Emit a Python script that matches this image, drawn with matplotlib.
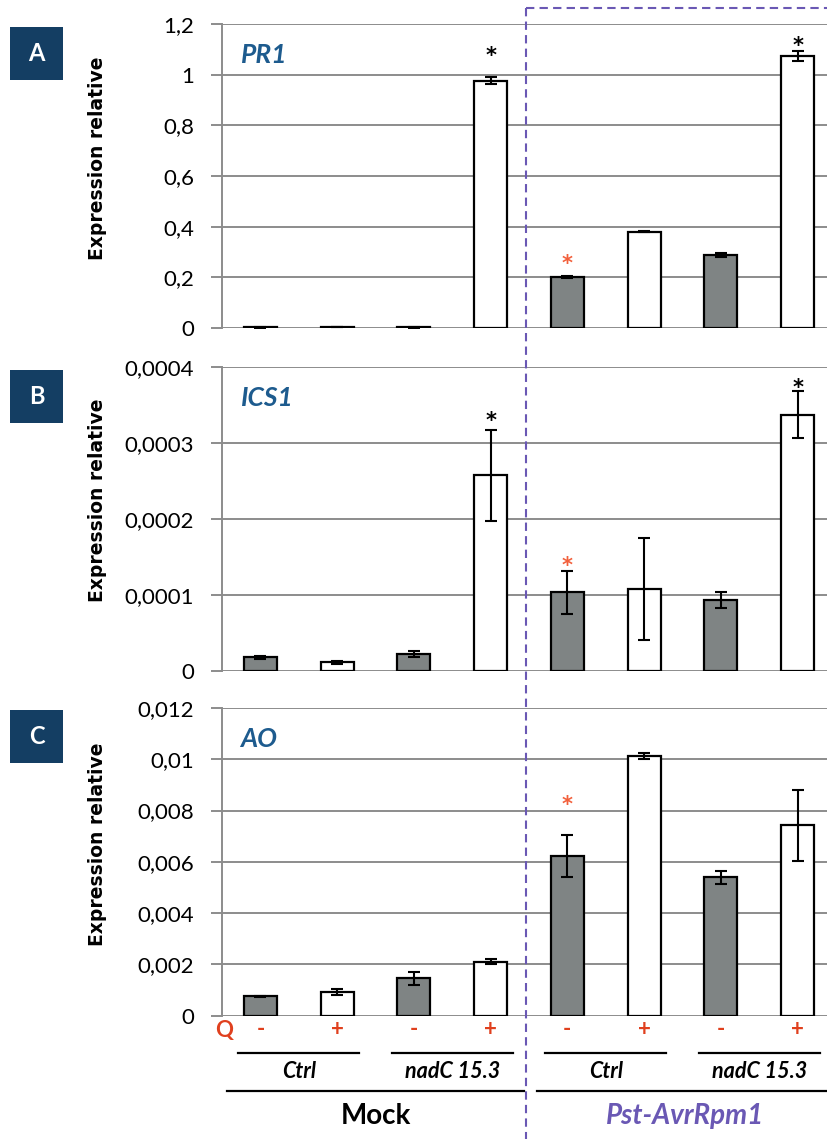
import matplotlib
matplotlib.use('Agg')
import matplotlib.pyplot as plt
from matplotlib.patches import Rectangle
from matplotlib.lines import Line2D
import matplotlib.transforms as mtrans

# ---------------- data ----------------
genes = ['PR1', 'ICS1', 'AO']
panel_letters = ['A', 'B', 'C']
q_labels = ['-', '+', '-', '+', '-', '+', '-', '+']
lines_lbl = ['Ctrl', 'nadC 15.3', 'Ctrl', 'nadC 15.3']
treatments = ['Mock', 'Pst-AvrRpm1']

pr1_vals = [0.002, 0.003, 0.002, 0.976, 0.200, 0.380, 0.288, 1.075]
pr1_errs = [0.0005, 0.0005, 0.0005, 0.013, 0.004, 0.003, 0.009, 0.020]
ics1_vals = [1.8e-5, 1.1e-5, 2.2e-5, 2.57e-4, 1.03e-4, 1.08e-4, 0.93e-4, 3.37e-4]
ics1_errs = [2e-6, 2e-6, 4e-6, 6.0e-5, 2.8e-5, 6.7e-5, 1.0e-5, 3.1e-5]
ao_vals = [0.00075, 0.00092, 0.00146, 0.00210, 0.00621, 0.01012, 0.00540, 0.00742]
ao_errs = [0.00002, 0.00012, 0.00025, 0.00010, 0.00082, 0.00012, 0.00025, 0.00138]

pr1_ticks = [0, 0.2, 0.4, 0.6, 0.8, 1.0, 1.2]
pr1_ticklabels = ['0', '0,2', '0,4', '0,6', '0,8', '1', '1,2']
ics1_ticks = [0, 1e-4, 2e-4, 3e-4, 4e-4]
ics1_ticklabels = ['0', '0,0001', '0,0002', '0,0003', '0,0004']
ao_ticks = [0, 0.002, 0.004, 0.006, 0.008, 0.010, 0.012]
ao_ticklabels = ['0', '0,002', '0,004', '0,006', '0,008', '0,01', '0,012']

# significance stars: (bar index, y position, colour key)
pr1_stars = [(3, 1.097, 'k'), (7, 1.137, 'k'), (4, 0.276, 'r')]
ics1_stars = [(3, 3.36e-4, 'k'), (7, 3.79e-4, 'k'), (4, 1.447e-4, 'r')]
ao_stars = [(4, 0.00845, 'r')]

# ---------------- style ----------------
W, H = 828, 1139
def fx(px): return px / W
def fy(py): return 1 - py / H

GREY_FILL = '#7f8484'
GRID = '#8c8c8c'
RED = '#e0401e'
STAR_RED = '#f2603c'
NAVY = '#143e63'
GENE_BLUE = '#1d5b8e'
PURPLE = '#6a58b4'
FONT = 'Lato'

fig = plt.figure(figsize=(W / 100, H / 100), dpi=100)

panels = [
    (genes[0], panel_letters[0], pr1_vals, pr1_errs, pr1_ticks, pr1_ticklabels, pr1_stars, 24, 328, 27),
    (genes[1], panel_letters[1], ics1_vals, ics1_errs, ics1_ticks, ics1_ticklabels, ics1_stars, 366.7, 670.7, 370),
    (genes[2], panel_letters[2], ao_vals, ao_errs, ao_ticks, ao_ticklabels, ao_stars, 708, 1015.7, 710),
]

ax_left, ax_right = 222, 836
axes = []
for gene, letter, vals, errs, ticks, tlabels, stars, ytop, ybot, boxtop in panels:
    ax = fig.add_axes([fx(ax_left), fy(ybot), (ax_right - ax_left) / W, (ybot - ytop) / H])
    axes.append(ax)
    x = list(range(len(vals)))
    colors = [GREY_FILL if q == '-' else 'white' for q in q_labels]
    ax.bar(x, vals, width=0.43, color=colors, edgecolor='black', linewidth=1.6, zorder=3)
    ax.errorbar(x, vals, yerr=errs, fmt='none', ecolor='black', elinewidth=1.5,
                capsize=4.3, capthick=1.5, zorder=4)
    ax.set_xlim(-0.5, len(vals) - 0.5)
    ax.set_ylim(ticks[0], ticks[-1])
    ax.set_yticks(ticks)
    ax.set_yticklabels(tlabels, fontfamily=FONT, fontsize=16)
    ax.set_xticks([])
    ax.yaxis.grid(True, color=GRID, linewidth=1.4)
    ax.set_axisbelow(True)
    for s in ['top', 'right', 'bottom']:
        ax.spines[s].set_visible(False)
    ax.spines['left'].set_color(GRID)
    ax.spines['left'].set_linewidth(1.4)
    ax.tick_params(axis='y', length=8, width=1.4, color=GRID, pad=12)
    ax.set_facecolor('none')
    star_tr = ax.transData + mtrans.ScaledTranslation(0, -4 / 72, fig.dpi_scale_trans)
    for idx, sy, ck in stars:
        ax.text(idx, sy, '*', ha='center', va='center', fontsize=15, fontweight='bold',
                fontfamily='DejaVu Sans', color='black' if ck == 'k' else STAR_RED,
                zorder=5, transform=star_tr)
    # gene name
    fig.text(fx(240.5), fy(ytop + 31), gene, ha='left', va='center', fontsize=19,
             fontweight='bold', fontstyle='italic', color=GENE_BLUE, fontfamily=FONT)
    # y label
    fig.text(fx(98), fy((ytop + ybot) / 2 - 18), 'Expression relative', rotation=90,
             ha='center', va='center', fontsize=13.5, fontweight='bold', fontfamily='DejaVu Sans')
    # panel letter box
    fig.add_artist(Rectangle((fx(10), fy(boxtop + 53)), 53 / W, 53 / H,
                             transform=fig.transFigure, facecolor=NAVY, edgecolor='none'))
    fig.text(fx(36.5), fy(boxtop + 26.5), letter, ha='center', va='center', color='white',
             fontsize=17, fontweight='bold', fontfamily=FONT)

# dashed separator
fig.add_artist(Line2D([fx(526), fx(526)], [fy(8), 0], transform=fig.transFigure,
                      color=PURPLE, lw=1.5, dashes=(4, 2.5)))
fig.add_artist(Line2D([fx(526), 1], [fy(8), fy(8)], transform=fig.transFigure,
                      color=PURPLE, lw=1.5, dashes=(4, 2.5)))

# bottom labels
axc = axes[-1]
bt = mtrans.blended_transform_factory(axc.transData, fig.transFigure)
fig.text(fx(224), fy(1030), 'Q', ha='center', va='center', color=RED, fontsize=16,
         fontweight='bold', fontfamily=FONT)
for i, q in enumerate(q_labels):
    fig.text(i, fy(1030), q, transform=bt, ha='center', va='center', color=RED,
             fontsize=16, fontweight='bold', fontfamily=FONT)
for j, lab in enumerate(lines_lbl):
    c = 2 * j + 0.5
    fig.add_artist(Line2D([c - 0.79, c + 0.79], [fy(1053), fy(1053)], transform=bt,
                          color='black', lw=1.6))
    fig.text(c, fy(1071), lab, transform=bt, ha='center', va='center', fontsize=15.5,
             fontweight='bold', fontstyle='italic', fontfamily=FONT)
fig.add_artist(Line2D([-0.44, 3.44], [fy(1091), fy(1091)], transform=bt, color='black', lw=1.6))
fig.add_artist(Line2D([3.60, 7.6], [fy(1091), fy(1091)], transform=bt, color='black', lw=1.6))
fig.text(1.5, fy(1116), treatments[0], transform=bt, ha='center', va='center', fontsize=20,
         fontweight='bold', fontfamily=FONT)
fig.text(5.53, fy(1116), treatments[1], transform=bt, ha='center', va='center', fontsize=20,
         fontweight='bold', fontstyle='italic', color=PURPLE, fontfamily=FONT)

fig.savefig('out.png', dpi=100)
